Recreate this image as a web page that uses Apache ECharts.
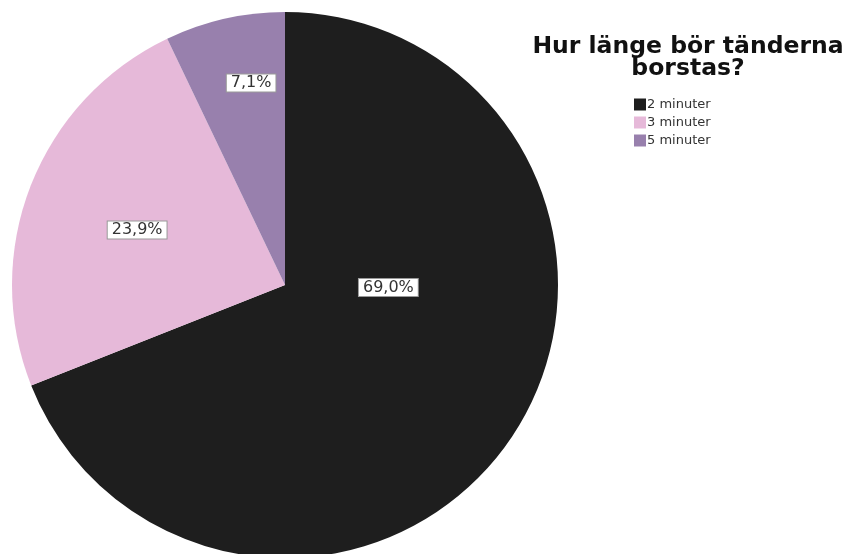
<!DOCTYPE html>
<html>
<head>
<meta charset="utf-8">
<script src="https://cdn.jsdelivr.net/npm/echarts@6/dist/echarts.min.js"></script>
<style>html,body{margin:0;padding:0;background:#fff}#c{width:850px;height:554px}</style>
</head>
<body>
<div id="c"></div>
<script>
var categories = ['2 minuter', '3 minuter', '5 minuter'];
var values = [69.0, 23.9, 7.1];
var colors = ['#1e1e1e', '#e6b9d9', '#9880ad'];
var labelOffsets = [[-12, -76], [-18, -4], [-3, -66]];
var titleText = 'Hur länge bör tänderna\nborstas?';

var chart = echarts.init(document.getElementById('c'), null, {renderer: 'canvas'});
var data = categories.map(function (c, i) {
  return {
    name: c,
    value: values[i],
    itemStyle: {color: colors[i]},
    label: {offset: labelOffsets[i]}
  };
});
chart.setOption({
  animation: false,
  title: {
    text: titleText,
    left: 683,
    top: 31,
    textAlign: 'center',
    textStyle: {fontFamily: 'DejaVu Sans', fontWeight: 'bold', fontSize: 23.5, lineHeight: 22, color: '#111'}
  },
  legend: {
    orient: 'vertical',
    left: 629,
    top: 93,
    itemWidth: 12,
    itemHeight: 12,
    itemGap: 5,
    icon: 'rect',
    data: categories,
    textStyle: {fontFamily: 'DejaVu Sans', fontSize: 13, color: '#333', padding: [0, 0, 0, -4]}
  },
  series: [{
    type: 'pie',
    center: [285, 285],
    radius: [0, 273],
    startAngle: 90,
    clockwise: true,
    data: data,
    itemStyle: {borderWidth: 0},
    emphasis: {disabled: true},
    label: {
      show: true,
      position: 'inside',
      formatter: function (p) { return p.value.toFixed(1).replace('.', ',') + '%'; },
      fontFamily: 'DejaVu Sans',
      fontSize: 16,
      color: '#333',
      backgroundColor: '#fff',
      borderColor: '#999',
      borderWidth: 1,
      padding: [1, 4, 0, 4]
    },
    labelLine: {show: false}
  }]
});
</script>
</body>
</html>
